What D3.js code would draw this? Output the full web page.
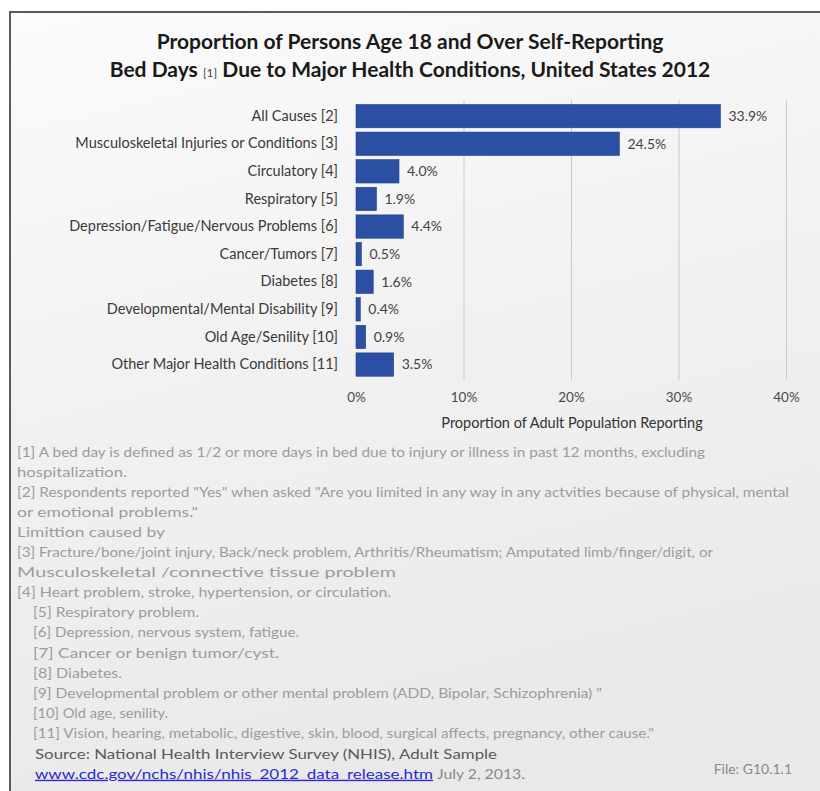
<!DOCTYPE html>
<html>
<head>
<meta charset="utf-8">
<script src="https://cdn.jsdelivr.net/npm/d3@7"></script>
<style>
  html, body { margin: 0; padding: 0; background: #ffffff; }
  svg { display: block; }
  text { font-family: Lato, "Open Sans", sans-serif; }
</style>
</head>
<body>
<svg id="chart" width="820" height="791"></svg>
<script>
// Bed days by major health condition, adults 18+, US 2012 (NHIS)
const categories = [
  "All Causes [2]",
  "Musculoskeletal Injuries or Conditions [3]",
  "Circulatory [4]",
  "Respiratory [5]",
  "Depression/Fatigue/Nervous Problems [6]",
  "Cancer/Tumors [7]",
  "Diabetes [8]",
  "Developmental/Mental Disability [9]",
  "Old Age/Senility [10]",
  "Other Major Health Conditions [11]"
];
const values = [33.9, 24.5, 4.0, 1.9, 4.4, 0.5, 1.6, 0.4, 0.9, 3.5];
const xTicks = [0, 10, 20, 30, 40];
const xTickLabels = ["0%", "10%", "20%", "30%", "40%"];

const titleLine1 = "Proportion of Persons Age 18 and Over Self-Reporting";
const titleLine2a = "Bed Days ";
const titleLine2b = "[1]";
const titleLine2c = " Due to Major Health Conditions, United States 2012";
const axisTitle = "Proportion of Adult Population Reporting";

const footnotes = [
  "[1]  A bed day is defined as 1/2 or more days in bed due to injury or illness in past 12 months, excluding",
  "hospitalization.",
  "[2] Respondents reported \"Yes\" when asked \"Are you limited in any way in any actvities because of physical, mental",
  "or emotional problems.\"",
  "Limittion caused by",
  "[3] Fracture/bone/joint injury, Back/neck problem, Arthritis/Rheumatism; Amputated limb/finger/digit, or",
  "Musculoskeletal /connective tissue problem",
  "[4] Heart problem, stroke, hypertension, or circulation.",
  "[5] Respiratory problem.",
  "[6] Depression, nervous system, fatigue.",
  "[7] Cancer or benign tumor/cyst.",
  "[8] Diabetes.",
  "[9] Developmental problem or other mental problem (ADD, Bipolar, Schizophrenia) \"",
  "[10] Old age, senility.",
  "[11] Vision, hearing, metabolic, digestive, skin, blood, surgical affects, pregnancy, other cause.\""
];

const sourceText = "Source:  National Health Interview Survey (NHIS), Adult Sample";
const urlText = "www.cdc.gov/nchs/nhis/nhis_2012_data_release.htm";
const dateText = "July 2, 2013.";
const fileText = "File: G10.1.1";

// layout of the notes block: left edge and set width of each line
const noteLeft = [17, 17, 17, 17, 17, 17, 17, 17, 33, 33, 33, 33, 33, 33, 33];
const noteWidth = [688, 110, 772, 181, 148, 696, 379, 374, 166, 266, 246, 89, 569, 135, 621];

const svg = d3.select("#chart");

// panel background with frame
const defs = svg.append("defs");
const grad = defs.append("linearGradient")
  .attr("id", "panelBg").attr("x1", 0).attr("y1", 0).attr("x2", 0.25).attr("y2", 1);
grad.append("stop").attr("offset", "0%").attr("stop-color", "#fbfbfb");
grad.append("stop").attr("offset", "45%").attr("stop-color", "#f2f2f2");
grad.append("stop").attr("offset", "100%").attr("stop-color", "#e9e9e9");

svg.append("rect")
  .attr("x", 10).attr("y", 12).attr("width", 830).attr("height", 800)
  .attr("fill", "url(#panelBg)")
  .attr("stroke", "#5a5a5a").attr("stroke-width", 2);

// title
svg.append("text")
  .attr("x", 410).attr("y", 49)
  .attr("text-anchor", "middle")
  .attr("font-size", 21).attr("font-weight", "bold").attr("fill", "#1a1a1a")
  .text(titleLine1);
const t2 = svg.append("text")
  .attr("x", 410).attr("y", 77)
  .attr("text-anchor", "middle")
  .attr("font-size", 21).attr("font-weight", "bold").attr("fill", "#1a1a1a");
t2.append("tspan").text(titleLine2a);
t2.append("tspan").attr("font-size", 12).attr("font-weight", "normal").attr("fill", "#444").text(titleLine2b);
t2.append("tspan").text(titleLine2c);

// scales
const x = d3.scaleLinear().domain([0, 40]).range([356, 786]);
const y = d3.scaleBand().domain(categories).range([100.2, 380.5]).padding(0.155);

// vertical gridlines
const gridTop = 100, gridBottom = 380;
svg.append("g")
  .attr("transform", `translate(0,${gridBottom})`)
  .call(d3.axisBottom(x).tickValues(xTicks.slice(1)).tickSize(-(gridBottom - gridTop)).tickFormat(""))
  .call(g => g.select(".domain").remove())
  .call(g => g.selectAll("line").attr("stroke", "#c6cad8").attr("stroke-width", 1));

// bars
svg.append("g").selectAll("rect")
  .data(values)
  .join("rect")
  .attr("x", x(0))
  .attr("y", (d, i) => y(categories[i]))
  .attr("width", d => x(d) - x(0))
  .attr("height", y.bandwidth())
  .attr("fill", "#2a4fa3")
  .attr("stroke", "#1f3f88").attr("stroke-width", 0.6);

// value labels
svg.append("g").selectAll("text")
  .data(values)
  .join("text")
  .attr("x", d => x(d) + 8)
  .attr("y", (d, i) => y(categories[i]) + y.bandwidth() / 2)
  .attr("dy", "0.35em")
  .attr("font-size", 14).attr("fill", "#444")
  .text(d => d.toFixed(1) + "%");

// category axis labels
svg.append("g")
  .attr("transform", `translate(${x(0)},0)`)
  .call(d3.axisLeft(y).tickSize(0).tickPadding(18))
  .call(g => g.select(".domain").remove())
  .call(g => g.selectAll("text")
    .attr("font-family", "Lato, 'Open Sans', sans-serif")
    .attr("font-size", 14.5).attr("fill", "#3a3a3a"));

// x axis tick labels
svg.append("g")
  .attr("transform", `translate(0,${gridBottom})`)
  .call(d3.axisBottom(x).tickValues(xTicks).tickSize(0).tickPadding(12)
    .tickFormat((d, i) => xTickLabels[i]))
  .call(g => g.select(".domain").remove())
  .call(g => g.selectAll("text")
    .attr("font-family", "Lato, 'Open Sans', sans-serif")
    .attr("font-size", 13.5).attr("fill", "#4a4a4a"));

// x axis title
svg.append("text")
  .attr("x", 572).attr("y", 428)
  .attr("text-anchor", "middle")
  .attr("font-size", 14.5).attr("fill", "#333")
  .text(axisTitle);

// footnotes: each line sized toward its set width, then fitted exactly
const noteTop = 457, noteStep = 20.05, noteBase = 12;
svg.append("g").selectAll("text")
  .data(footnotes)
  .join("text")
  .attr("x", (d, i) => noteLeft[i])
  .attr("y", (d, i) => noteTop + i * noteStep)
  .attr("font-size", noteBase).attr("fill", "#9c9c9c")
  .text(d => d)
  .each(function (d, i) {
    const natural = this.getComputedTextLength();
    const size = Math.max(11, Math.min(13.2, noteBase * noteWidth[i] / natural));
    d3.select(this).attr("font-size", size)
      .attr("textLength", noteWidth[i])
      .attr("lengthAdjust", "spacingAndGlyphs");
  });

const srcY = noteTop + footnotes.length * noteStep + 1;
svg.append("text")
  .attr("x", 35).attr("y", srcY)
  .attr("font-size", 14).attr("fill", "#5a5a5a")
  .attr("textLength", 462).attr("lengthAdjust", "spacingAndGlyphs")
  .text(sourceText);

svg.append("text")
  .attr("x", 35).attr("y", srcY + 20)
  .attr("font-size", 14).attr("fill", "#2a2ad0")
  .attr("text-decoration", "underline")
  .attr("textLength", 398).attr("lengthAdjust", "spacingAndGlyphs")
  .text(urlText);

svg.append("text")
  .attr("x", 437).attr("y", srcY + 20)
  .attr("font-size", 13.5).attr("fill", "#8a8a8a")
  .attr("textLength", 88).attr("lengthAdjust", "spacingAndGlyphs")
  .text(dateText);

svg.append("text")
  .attr("x", 792).attr("y", srcY + 15)
  .attr("text-anchor", "end")
  .attr("font-size", 14).attr("fill", "#8a8a8a")
  .text(fileText);
</script>
</body>
</html>
